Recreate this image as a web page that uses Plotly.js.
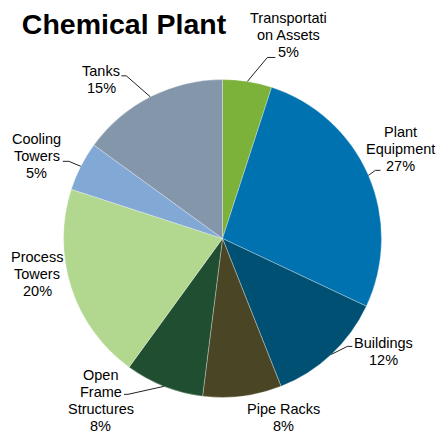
<!DOCTYPE html>
<html>
<head>
<meta charset="utf-8">
<script src="https://cdn.plot.ly/plotly-3.0.1.min.js"></script>
<style>html,body{margin:0;padding:0;background:#fff}#chart{width:437px;height:434px}</style>
</head>
<body>
<div id="chart"></div>
<script>
// ---- data ----
const categories = ["Transportation Assets", "Plant Equipment", "Buildings", "Pipe Racks", "Open Frame Structures", "Process Towers", "Cooling Towers", "Tanks"];
const labelLines = [["Transportati", "on Assets"], ["Plant", "Equipment"], ["Buildings"], ["Pipe Racks"], ["Open", "Frame", "Structures"], ["Process", "Towers"], ["Cooling", "Towers"], ["Tanks"]];
const values = [5, 27, 12, 8, 8, 20, 5, 15];
const colors = ["#7cb13a", "#0072b0", "#005073", "#4a4625", "#1f4e30", "#b2d78f", "#82a8d6", "#8396aa"];

// ---- layout helpers (label placement relative to slice rim point, px) ----
const labelOffset = [[41, -46], [32, -26], [52, -3], [41, 21], [-63, 14], [-34, -14], [-44, -10], [-49, -17]];
const leaderPts = [[[20, -24], [28, -24]], [[7, -5], [12, -5]], [[16, -8], [21, -8]], null, [[-36, 8], [-40, 8]], null, [[-12, -5], [-18, -5]], [[-24, -21], [-29, -21]]];

const W = 437, H = 434;
const cx = 222.5, cy = 238.5, R = 159;
const FONT = "Liberation Sans, Arial, sans-serif";
const FS = 14.5, LH = 17;

const total = values.reduce((a, b) => a + b, 0);
const px2x = p => p / W;
const py2y = p => 1 - p / H;

const annotations = [];
const shapes = [];
let cum = 0;
values.forEach((v, i) => {
  const mid = (cum + v / 2) / total * 2 * Math.PI;
  cum += v;
  const rx = cx + R * Math.sin(mid);
  const ry = cy - R * Math.cos(mid);
  const lines = labelLines[i].concat([Math.round(v / total * 100) + "%"]);
  const lcx = rx + labelOffset[i][0];
  const lcy = ry + labelOffset[i][1];
  const n = lines.length;
  lines.forEach((t, k) => {
    const yy = lcy + (k - (n - 1) / 2) * LH;
    annotations.push({
      text: t, showarrow: false, xref: "paper", yref: "paper",
      x: px2x(lcx), y: py2y(yy), xanchor: "center", yanchor: "middle",
      font: {family: FONT, size: FS, color: "#000"}
    });
  });
  if (leaderPts[i]) {
    const e = leaderPts[i][0], f = leaderPts[i][1];
    shapes.push({
      type: "path", xref: "paper", yref: "paper",
      path: `M ${px2x(rx)} ${py2y(ry)} L ${px2x(rx + e[0])} ${py2y(ry + e[1])} L ${px2x(rx + f[0])} ${py2y(ry + f[1])}`,
      line: {color: "#222", width: 1}
    });
  }
});

const trace = {
  type: "pie",
  labels: categories,
  values: values,
  textinfo: "none",
  sort: false,
  direction: "clockwise",
  rotation: 0,
  marker: {colors: colors, line: {width: 0.6, color: "rgba(255,255,255,0.5)"}},
  showlegend: false,
  domain: {x: [(cx - R) / W, (cx + R) / W], y: [(H - cy - R) / H, (H - cy + R) / H]}
};

const layout = {
  width: W, height: H,
  margin: {l: 0, r: 0, t: 0, b: 0},
  paper_bgcolor: "#fff",
  title: {text: "<b>Chemical Plant</b>", x: 0.05, xanchor: "left", y: 0.945, yanchor: "middle",
          font: {family: FONT, size: 28.5, color: "#000"}},
  showlegend: false,
  annotations: annotations,
  shapes: shapes
};

Plotly.newPlot("chart", [trace], layout, {displayModeBar: false, staticPlot: true});
</script>
</body>
</html>
